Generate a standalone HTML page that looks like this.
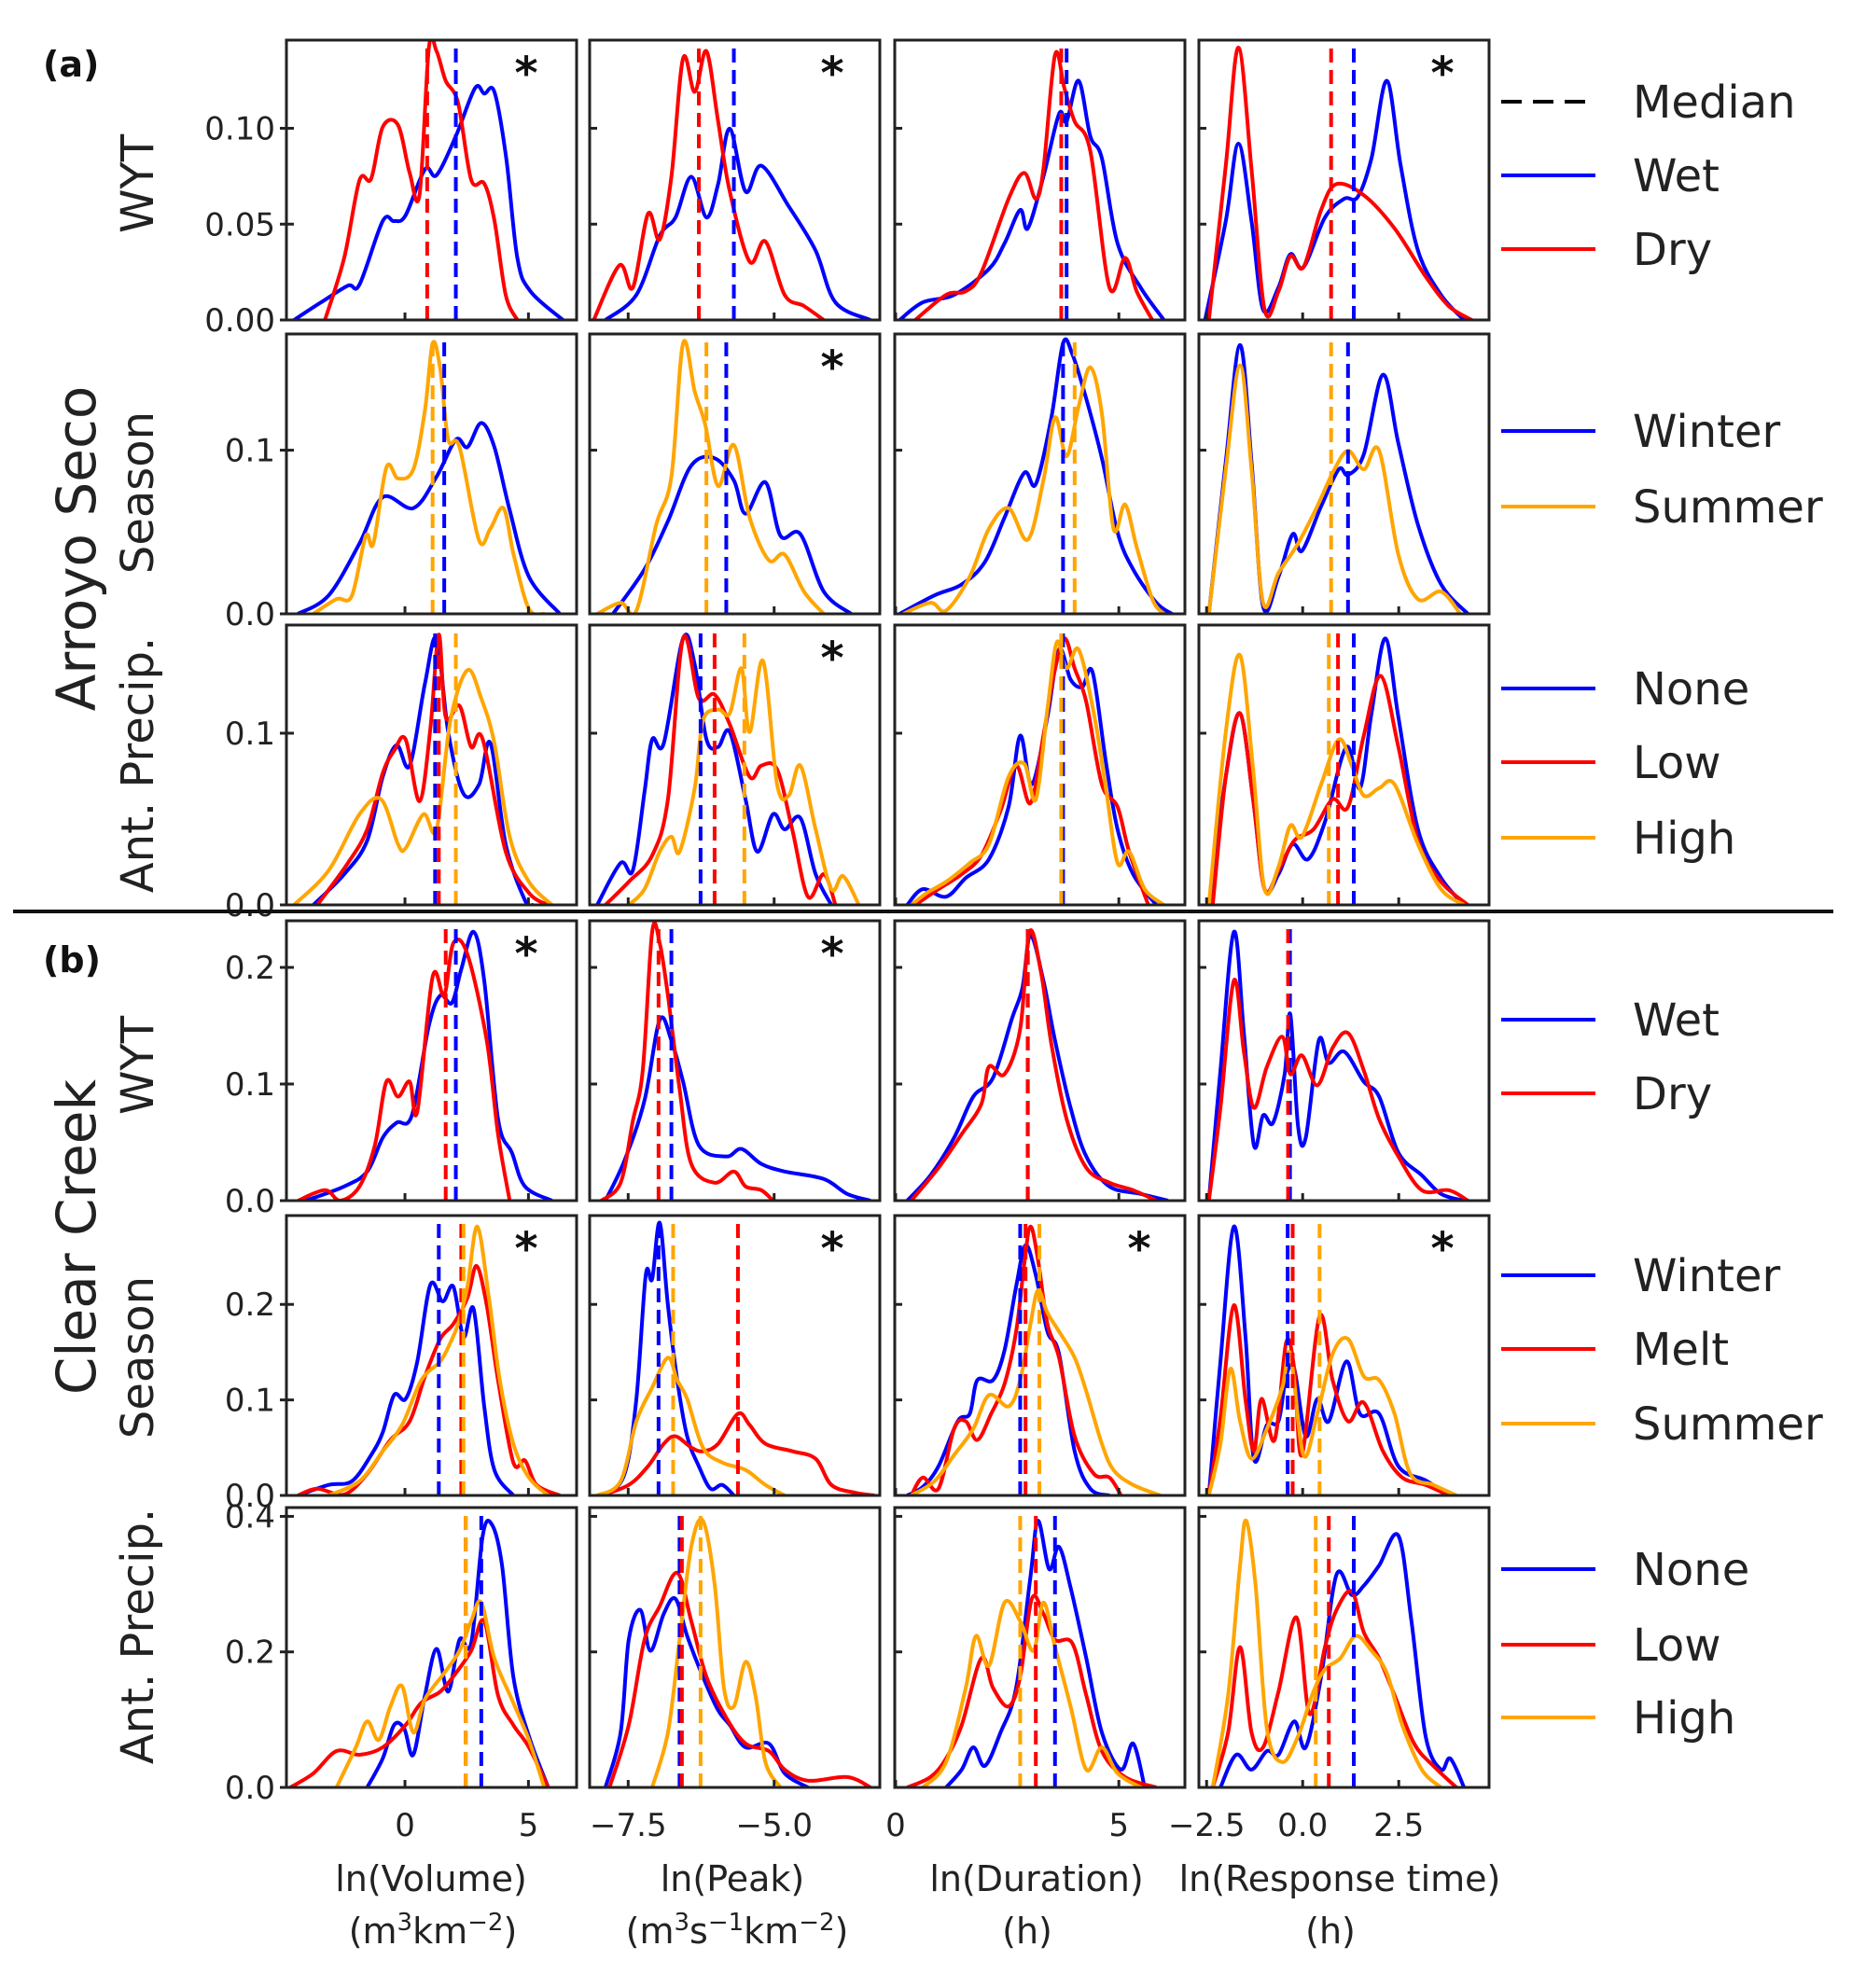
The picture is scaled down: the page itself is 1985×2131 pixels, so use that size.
<!DOCTYPE html>
<html><head><meta charset="utf-8"><title>KDE panels</title>
<style>
html,body{margin:0;padding:0;background:#fff;}
svg{display:block;font-family:"DejaVu Sans","Liberation Sans",sans-serif;}
</style></head>
<body>
<svg id="fig" width="1985" height="2131" viewBox="0 0 1985 2131" xmlns="http://www.w3.org/2000/svg">
<rect x="0" y="0" width="1985" height="2131" fill="#fff"/>
<g id="panels"></g>
<g id="labels">
<text x="46" y="82" font-size="38" font-weight="bold" fill="#111">(a)</text>
<text x="46" y="1042" font-size="38" font-weight="bold" fill="#111">(b)</text>
<text transform="translate(102,588) rotate(-90)" text-anchor="middle" font-size="58" fill="#222">Arroyo Seco</text>
<text transform="translate(102,1326) rotate(-90)" text-anchor="middle" font-size="58" fill="#222">Clear Creek</text>
<text transform="translate(164,197) rotate(-90)" text-anchor="middle" font-size="48" fill="#222">WYT</text>
<text transform="translate(164,528) rotate(-90)" text-anchor="middle" font-size="48" fill="#222">Season</text>
<text transform="translate(164,820) rotate(-90)" text-anchor="middle" font-size="48" fill="#222">Ant. Precip.</text>
<text transform="translate(164,1142) rotate(-90)" text-anchor="middle" font-size="48" fill="#222">WYT</text>
<text transform="translate(164,1455) rotate(-90)" text-anchor="middle" font-size="48" fill="#222">Season</text>
<text transform="translate(164,1754) rotate(-90)" text-anchor="middle" font-size="48" fill="#222">Ant. Precip.</text>
<line x1="14" y1="977" x2="1965" y2="977" stroke="#111" stroke-width="4"/>
<text x="462" y="2027" text-anchor="middle" font-size="38" fill="#222">ln(Volume)</text>
<text x="464" y="2083" text-anchor="middle" font-size="38" fill="#222">(m<tspan dy="-14" font-size="26">3</tspan><tspan dy="14">km</tspan><tspan dy="-14" font-size="26">−2</tspan><tspan dy="14">)</tspan></text>
<text x="785" y="2027" text-anchor="middle" font-size="38" fill="#222">ln(Peak)</text>
<text x="790" y="2083" text-anchor="middle" font-size="38" fill="#222">(m<tspan dy="-14" font-size="26">3</tspan><tspan dy="14">s</tspan><tspan dy="-14" font-size="26">−1</tspan><tspan dy="14">km</tspan><tspan dy="-14" font-size="26">−2</tspan><tspan dy="14">)</tspan></text>
<text x="1111" y="2027" text-anchor="middle" font-size="38" fill="#222">ln(Duration)</text>
<text x="1101" y="2083" text-anchor="middle" font-size="38" fill="#222">(h)</text>
<text x="1436" y="2027" text-anchor="middle" font-size="38" fill="#222">ln(Response time)</text>
<text x="1426" y="2083" text-anchor="middle" font-size="38" fill="#222">(h)</text>
</g>
<g id="legend"></g>
</svg>
<script>
// ---------- axis domains ----------
const colXmin = [-4.8, -8.16, -0.02, -2.7];
const colXmax = [6.95, -3.19, 6.48, 4.85];
const rowYmax = [0.146, 0.171, 0.163, 0.24, 0.293, 0.413];
const colXticks = [[0,5],[-7.5,-5.0],[0,5],[-2.5,0.0,2.5]];
const colXtickLabels = [["0","5"],["−7.5","−5.0"],["0","5"],["−2.5","0.0","2.5"]];
const rowYticks = [[0,0.05,0.10],[0,0.1],[0,0.1],[0,0.1,0.2],[0,0.1,0.2],[0,0.2,0.4]];
const rowYtickLabels = [["0.00","0.05","0.10"],["0.0","0.1"],["0.0","0.1"],["0.0","0.1","0.2"],["0.0","0.1","0.2"],["0.0","0.2","0.4"]];
const starPanels = [[0,0],[0,1],[0,3],[1,1],[2,1],[3,0],[3,1],[4,0],[4,1],[4,2],[4,3]];

// ---------- row 1 (Arroyo Seco, WYT) ----------
const r1c1_wet_x=[-4.49,-3.40,-2.31,-1.84,-0.90,-0.44,0.02,0.81,1.28,2.06,2.84,3.21,3.62,4.10,4.55,5.08,6.40];
const r1c1_wet_y=[0,.0092,.0179,.0185,.0516,.0516,.0545,.0786,.0756,.0959,.1210,.1181,.1190,.0844,.0324,.0150,0];
const r1c1_dry_x=[-3.24,-2.46,-1.84,-1.37,-0.90,-0.28,0.19,0.59,0.97,1.28,1.65,2.15,2.68,3.21,3.62,4.08,4.55];
const r1c1_dry_y=[0,.0324,.0729,.0737,.1007,.1017,.0767,.0655,.1421,.1402,.1248,.1132,.0732,.0712,.0520,.0131,0];
const r1c1_med=[2.06,0.90];
const r1c2_wet_x=[-7.89,-7.36,-6.96,-6.69,-6.42,-6.16,-5.96,-5.76,-5.49,-5.22,-4.75,-4.29,-3.95,-3.35];
const r1c2_wet_y=[0,.0131,.0439,.0535,.0747,.0535,.0709,.0998,.0670,.0805,.0593,.0362,.0092,0];
const r1c2_dry_x=[-8.09,-7.65,-7.42,-7.16,-6.96,-6.76,-6.56,-6.36,-6.16,-5.96,-5.76,-5.42,-5.15,-4.82,-4.49,-4.15];
const r1c2_dry_y=[0,.0285,.0169,.0555,.042,.0747,.1364,.119,.1402,.1036,.067,.0304,.041,.0131,.0073,0];
const r1c2_med=[-5.69,-6.29];
const r1c3_wet_x=[0.09,0.61,1.31,2.09,2.44,2.79,2.96,3.31,3.66,3.83,4.10,4.36,4.62,4.97,5.49,6.01];
const r1c3_wet_y=[0,.0092,.0131,.0266,.040,.0574,.0478,.0747,.1075,.1036,.1248,.0959,.0844,.040,.0169,0];
const r1c3_dry_x=[0.44,1.13,1.57,1.92,2.53,2.88,3.14,3.31,3.57,3.78,4.01,4.36,4.79,5.14,5.40,5.75];
const r1c3_dry_y=[0,.0131,.015,.0247,.0632,.0767,.0632,.0786,.1383,.121,.1036,.0882,.0169,.0324,.015,0];
const r1c3_med=[3.83,3.71];
const r1c4_wet_x=[-2.54,-2.0,-1.67,-1.33,-1.03,-0.63,-0.32,0.02,0.58,1.08,1.43,1.79,2.19,2.55,3.0,3.6,4.2];
const r1c4_wet_y=[0,.0516,.092,.0516,.0054,.017,.0343,.0275,.0535,.0632,.0641,.0844,.1248,.0805,.0362,.0131,0];
const r1c4_dry_x=[-2.44,-2.0,-1.67,-1.33,-0.99,-0.63,-0.32,0.02,0.48,0.88,1.59,2.39,3.2,3.8,4.4];
const r1c4_dry_y=[0,.0805,.1421,.0786,.0054,.015,.0333,.0275,.0574,.0709,.0651,.0478,.0227,.0073,0];
const r1c4_med=[1.33,0.74];

// ---------- row 2 (Arroyo Seco, Season) ----------
const r2c1_winter_x=[-4.33,-3.09,-1.84,-0.90,0.34,1.28,2.06,2.53,3.09,3.62,4.24,5.02,6.27];
const r2c1_winter_y=[0,.0113,.043,.0713,.0646,.0838,.1065,.1019,.1166,.1019,.0634,.0227,0];
const r2c1_summer_x=[-3.71,-2.77,-2.15,-1.59,-1.28,-0.75,-0.28,0.34,0.81,1.12,1.43,1.75,2.21,2.99,3.46,3.99,4.40,5.02,5.64];
const r2c1_summer_y=[0,.009,.011,.0476,.043,.0895,.0827,.0883,.1246,.1653,.1495,.1065,.1019,.0453,.0521,.0646,.0362,.003,0];
const r2c1_med=[1.59,1.12];
const r2c2_winter_x=[-7.76,-7.22,-6.82,-6.42,-6.02,-5.69,-5.49,-5.15,-4.89,-4.55,-4.15,-3.68];
const r2c2_winter_y=[0,.0272,.0566,.0906,.0951,.0815,.0612,.0804,.0476,.0487,.0136,0];
const r2c2_summer_x=[-8.03,-7.63,-7.36,-7.02,-6.76,-6.56,-6.36,-6.18,-5.96,-5.69,-5.42,-5.09,-4.82,-4.49,-4.15];
const r2c2_summer_y=[0,.0068,.002,.0544,.0838,.1653,.1359,.1155,.0781,.1031,.0589,.0328,.0362,.0136,0];
const r2c2_med=[-5.82,-6.16];
const r2c3_winter_x=[0.09,0.87,1.48,2.0,2.44,2.88,3.14,3.49,3.75,3.96,4.27,4.62,4.97,5.32,5.84,6.19];
const r2c3_winter_y=[0,.0113,.018,.0317,.0589,.0861,.0793,.12,.1653,.1586,.1314,.0951,.0498,.0272,.0068,0];
const r2c3_summer_x=[0.17,0.78,1.13,1.66,2.09,2.53,2.96,3.31,3.57,3.83,4.10,4.36,4.62,4.88,5.14,5.40,5.75,6.01];
const r2c3_summer_y=[0,.0068,.002,.0227,.0521,.0646,.0453,.0815,.12,.0963,.1268,.1506,.1223,.0521,.0668,.0408,.009,0];
const r2c3_med=[3.75,4.01];
const r2c4_winter_x=[-2.44,-2.0,-1.63,-1.33,-1.03,-0.63,-0.26,-0.02,0.48,0.94,1.18,1.59,2.09,2.49,3.0,3.6,4.3];
const r2c4_winter_y=[0,.0929,.1642,.0929,.0045,.0227,.0487,.0385,.0657,.0883,.0849,.0974,.1461,.1042,.0544,.0181,0];
const r2c4_summer_x=[-2.44,-2.0,-1.63,-1.33,-1.03,-0.63,-0.12,0.38,0.78,1.18,1.59,1.99,2.49,3.0,3.6,4.1];
const r2c4_summer_y=[0,.0883,.1518,.0883,.0068,.0249,.043,.0657,.0861,.0997,.0883,.0997,.0362,.009,.0136,0];
const r2c4_med=[1.18,0.74];

// ---------- row 3 (Arroyo Seco, Antecedent precipitation) ----------
const r3c1_none_x=[-3.71,-2.46,-1.53,-0.90,-0.34,0.19,0.81,1.28,1.75,2.37,3.0,3.46,4.08,4.86,5.17];
const r3c1_none_y=[0,.0179,.0375,.0746,.0931,.0811,.129,.1552,.1007,.0647,.0702,.0942,.0353,.0026,0];
const r3c1_low_x=[-3.55,-2.31,-1.53,-0.90,-0.44,0.03,0.59,1.03,1.37,1.65,2.21,2.68,3.15,4.08,5.02,5.8];
const r3c1_low_y=[0,.0244,.044,.0767,.0898,.0964,.0604,.1029,.1574,.1094,.116,.092,.0964,.031,.007,0];
const r3c1_high_x=[-4.49,-3.09,-1.84,-0.97,-0.28,0.03,0.75,1.28,1.84,2.53,3.09,3.62,4.24,5.02,5.95];
const r3c1_high_y=[0,.0201,.0528,.0615,.0353,.0331,.0528,.044,.1073,.1367,.1203,.0942,.0397,.0135,0];
const r3c1_med=[1.22,1.37,2.06];
const r3c2_none_x=[-8.03,-7.63,-7.42,-7.22,-7.09,-6.89,-6.56,-6.36,-6.16,-5.96,-5.76,-5.49,-5.29,-5.02,-4.82,-4.55,-4.29,-4.02];
const r3c2_none_y=[0,.0244,.0201,.0658,.0964,.0942,.1552,.14,.0964,.092,.1007,.0615,.031,.0528,.044,.0506,.0179,0];
const r3c2_low_x=[-7.89,-7.49,-7.09,-6.82,-6.56,-6.29,-6.02,-5.76,-5.42,-5.22,-4.95,-4.69,-4.42,-4.15,-3.95];
const r3c2_low_y=[0,.0135,.0288,.0615,.1552,.1203,.1225,.1051,.0746,.0811,.0789,.044,.0048,.0179,0];
const r3c2_high_x=[-7.49,-7.22,-6.96,-6.76,-6.62,-6.36,-6.22,-5.96,-5.76,-5.56,-5.42,-5.19,-4.95,-4.75,-4.55,-4.29,-4.02,-3.82,-3.55];
const r3c2_high_y=[0,.0092,.031,.0397,.031,.068,.1073,.1138,.1116,.1378,.1007,.1421,.0702,.0637,.0811,.044,.0092,.0168,0];
const r3c2_med=[-6.26,-6.02,-5.51];
const r3c3_none_x=[0.26,0.61,1.13,1.57,2.09,2.53,2.79,3.05,3.40,3.66,3.92,4.18,4.41,4.71,4.97,5.32,5.84];
const r3c3_none_y=[0,.0092,.0048,.0157,.0266,.0571,.0985,.0702,.1094,.1487,.1312,.1269,.1356,.0833,.044,.0179,0];
const r3c3_low_x=[0.44,0.96,1.48,1.92,2.35,2.70,3.02,3.31,3.54,3.78,4.01,4.27,4.62,4.97,5.23,5.66];
const r3c3_low_y=[0,.0092,.0179,.0288,.0549,.0811,.0593,.0985,.1334,.1552,.1378,.1182,.0702,.0571,.031,0];
const r3c3_high_x=[0.35,0.70,1.13,1.66,2.09,2.53,2.88,3.14,3.40,3.61,3.83,4.10,4.44,4.71,4.97,5.23,5.58,6.01];
const r3c3_high_y=[0,.007,.0135,.0244,.0353,.0746,.0822,.0615,.1138,.153,.1378,.1487,.1116,.068,.0244,.031,.0092,0];
const r3c3_med=[3.75,3.71,3.71];
const r3c4_none_x=[-2.44,-2.0,-1.63,-1.29,-0.99,-0.63,-0.26,0.14,0.58,1.14,1.49,1.79,2.15,2.49,3.0,3.6,4.2];
const r3c4_none_y=[0,.0746,.1116,.0615,.0092,.0179,.0353,.0266,.0484,.092,.068,.1116,.1552,.1094,.044,.0157,0];
const r3c4_low_x=[-2.34,-2.0,-1.63,-1.29,-0.99,-0.63,-0.22,0.28,0.78,1.18,1.59,2.03,2.49,3.0,3.6,4.3];
const r3c4_low_y=[0,.0746,.1116,.0615,.0092,.0201,.0375,.044,.0615,.0571,.0985,.1334,.092,.0375,.0135,0];
const r3c4_high_x=[-2.44,-2.0,-1.63,-1.29,-0.99,-0.63,-0.32,-0.02,0.48,0.94,1.28,1.59,1.99,2.39,3.0,3.6,4.2];
const r3c4_high_y=[0,.1007,.1454,.0789,.0092,.0222,.0462,.0397,.0702,.0964,.0811,.0637,.068,.0702,.0353,.0092,0];
const r3c4_med=[1.33,0.92,0.68];

// ---------- row 4 (Clear Creek, WYT) ----------
const r4c1_wet_x=[-4.02,-2.46,-1.53,-0.90,-0.34,0.28,0.97,1.43,1.90,2.28,2.78,3.21,3.77,4.33,4.86,5.95];
const r4c1_wet_y=[0,.0122,.025,.0539,.0668,.0732,.1502,.1759,.1695,.1984,.2305,.1887,.07,.0411,.0122,0];
const r4c1_dry_x=[-4.33,-3.24,-2.62,-1.84,-1.22,-0.75,-0.28,0.19,0.50,1.12,1.59,1.96,2.53,3.31,3.77,4.24];
const r4c1_dry_y=[0,.009,0,.0122,.0475,.1021,.0892,.1021,.0764,.192,.1759,.2208,.2112,.1374,.0571,0];
const r4c1_med=[2.06,1.65];
const r4c2_wet_x=[-7.89,-7.56,-7.22,-6.96,-6.76,-6.56,-6.29,-5.82,-5.56,-5.22,-4.82,-4.15,-3.75,-3.35];
const r4c2_wet_y=[0,.0347,.086,.155,.1374,.1021,.0475,.0379,.0443,.0315,.025,.0186,.0058,0];
const r4c2_dry_x=[-7.96,-7.63,-7.42,-7.25,-7.09,-6.96,-6.82,-6.62,-6.42,-6.02,-5.69,-5.49,-5.22,-5.02];
const r4c2_dry_y=[0,.0154,.0684,.1117,.2305,.2208,.1759,.0957,.0315,.0154,.025,.0122,.009,0];
const r4c2_med=[-6.76,-6.98];
const r4c3_wet_x=[0.26,0.78,1.31,1.74,2.18,2.61,2.84,3.02,3.31,3.57,3.92,4.27,4.79,5.49,6.1];
const r4c3_wet_y=[0,.0218,.0539,.0892,.1053,.1566,.1823,.2273,.1887,.1374,.0796,.0379,.0122,.0058,0];
const r4c3_dry_x=[0.35,0.96,1.48,1.92,2.09,2.44,2.79,3.0,3.26,3.49,3.83,4.27,4.79,5.32,5.84];
const r4c3_dry_y=[0,.0282,.0571,.0828,.1149,.1085,.147,.2305,.1952,.1342,.07,.0282,.0154,.009,0];
const r4c3_med=[2.96,2.96];
const r4c4_wet_x=[-2.44,-2.14,-1.79,-1.53,-1.27,-1.03,-0.77,-0.47,-0.32,-0.12,0.08,0.42,0.68,1.08,1.59,1.99,2.49,3.10,3.60,4.2];
const r4c4_wet_y=[0,.1117,.2305,.1438,.0475,.0732,.0668,.1085,.1598,.0636,.0539,.1374,.1181,.1278,.1021,.0892,.0411,.0218,.0058,0];
const r4c4_dry_x=[-2.44,-2.14,-1.79,-1.53,-1.27,-0.93,-0.53,-0.32,-0.02,0.38,0.78,1.18,1.59,1.99,2.49,3.10,3.80,4.3];
const r4c4_dry_y=[0,.0796,.1887,.1278,.0796,.1149,.1406,.1085,.1246,.0989,.131,.1438,.1117,.07,.0379,.009,.009,0];
const r4c4_med=[-0.33,-0.38];

// ---------- row 5 (Clear Creek, Season) ----------
const r5c1_winter_x=[-4.33,-3.09,-2.15,-1.37,-0.90,-0.44,0.03,0.50,1.03,1.53,1.96,2.37,2.78,3.21,3.62,4.39];
const r5c1_winter_y=[0,.011,.0149,.0423,.0659,.1051,.1011,.1403,.2207,.2031,.2187,.1658,.1952,.0933,.0267,0];
const r5c1_melt_x=[-4.33,-3.55,-2.46,-1.53,-0.59,0.19,0.81,1.43,1.96,2.53,2.90,3.31,3.77,4.39,4.86,5.33,6.27];
const r5c1_melt_y=[0,.0071,.001,.0227,.058,.0776,.1247,.1639,.1795,.207,.2403,.1991,.1207,.0345,.0365,.011,0];
const r5c1_summer_x=[-3.09,-1.84,-0.90,-0.12,0.66,1.43,1.84,2.15,2.53,2.93,3.40,3.84,4.39,5.02,5.8];
const r5c1_summer_y=[0,.0149,.0463,.0737,.1207,.1403,.16,.1795,.2187,.2815,.207,.1207,.0541,.0188,0];
const r5c1_med=[1.37,2.28,2.37];
const r5c2_winter_x=[-7.89,-7.56,-7.36,-7.2,-7.09,-6.96,-6.82,-6.66,-6.49,-6.29,-6.09,-5.89,-5.69];
const r5c2_winter_y=[0,.0227,.1011,.2305,.2266,.2854,.1991,.1207,.0619,.0306,.0071,.011,0];
const r5c2_melt_x=[-7.96,-7.49,-7.16,-6.89,-6.69,-6.42,-6.22,-5.96,-5.62,-5.42,-5.15,-4.69,-4.29,-4.02,-3.62,-3.28];
const r5c2_melt_y=[0,.011,.0306,.0541,.0619,.0502,.0463,.0541,.0855,.0737,.0541,.0463,.0384,.011,.003,0];
const r5c2_summer_x=[-8.03,-7.63,-7.36,-7.09,-6.82,-6.66,-6.49,-6.22,-5.89,-5.49,-5.15,-4.82];
const r5c2_summer_y=[0,.0149,.0776,.1129,.1443,.1207,.1011,.0502,.0345,.0267,.011,0];
const r5c2_med=[-6.98,-5.62,-6.73];
const r5c3_winter_x=[0.26,0.61,0.96,1.39,1.66,1.83,2.18,2.44,2.70,2.91,3.14,3.40,3.66,4.01,4.36,4.79];
const r5c3_winter_y=[0,.009,.0306,.0776,.0855,.1207,.1207,.1521,.2187,.2619,.2305,.1717,.1482,.0463,.0071,0];
const r5c3_melt_x=[0.35,0.61,0.96,1.31,1.57,1.83,2.14,2.44,2.70,2.88,3.02,3.19,3.40,3.66,4.01,4.44,4.79,5.05];
const r5c3_melt_y=[0,.0188,.0071,.0698,.0776,.058,.0855,.1168,.1717,.2423,.2815,.2462,.1795,.1443,.0619,.0227,.0188,0];
const r5c3_summer_x=[0.35,0.87,1.31,1.74,2.09,2.53,2.79,3.02,3.19,3.40,3.66,4.01,4.27,4.62,4.88,5.32,5.93];
const r5c3_summer_y=[0,.0149,.0423,.0698,.1051,.0933,.1207,.1795,.2148,.1913,.1717,.1443,.109,.0541,.0267,.011,0];
const r5c3_med=[2.79,2.91,3.22];
const r5c4_winter_x=[-2.44,-2.14,-1.79,-1.49,-1.27,-0.93,-0.63,-0.43,-0.22,0.08,0.38,0.68,1.14,1.49,1.99,2.49,3.20,3.80];
const r5c4_winter_y=[0,.1403,.2815,.1678,.0384,.0737,.0776,.1247,.1325,.0619,.1011,.0776,.1403,.0855,.0855,.0306,.0157,0];
const r5c4_melt_x=[-2.44,-2.14,-1.79,-1.49,-1.27,-1.07,-0.73,-0.43,-0.22,-0.02,0.44,0.78,1.18,1.59,2.09,2.59,3.20,3.8];
const r5c4_melt_y=[0,.0815,.1991,.1011,.0463,.1011,.058,.16,.1325,.0423,.1874,.1207,.0776,.0972,.0463,.0188,.011,0];
const r5c4_summer_x=[-2.44,-2.14,-1.88,-1.63,-1.33,-0.93,-0.53,-0.32,0.02,0.38,0.78,1.18,1.59,1.99,2.39,2.80,3.40,4.0];
const r5c4_summer_y=[0,.0541,.1325,.0776,.0384,.0698,.1129,.1482,.0423,.0855,.1482,.1639,.1247,.1207,.0855,.0227,.011,0];
const r5c4_med=[-0.39,-0.26,0.44];

// ---------- row 6 (Clear Creek, Antecedent precipitation) ----------
const r6c1_none_x=[-1.53,-0.90,-0.44,-0.03,0.34,0.81,1.28,1.75,2.21,2.68,3.15,3.52,3.93,4.39,5.02,5.8];
const r6c1_none_y=[0,.0427,.0921,.0866,.0482,.1359,.2044,.1414,.2181,.2126,.3715,.388,.3277,.1633,.0756,0];
const r6c1_low_x=[-4.64,-3.71,-2.77,-1.84,-0.90,0.03,0.66,1.43,2.06,2.68,3.21,3.77,4.39,5.02,5.8];
const r6c1_low_y=[0,.0208,.0537,.0482,.0592,.0921,.1249,.1414,.1688,.2017,.2455,.1359,.0921,.0592,0];
const r6c1_high_x=[-2.77,-1.99,-1.53,-1.06,-0.59,-0.12,0.34,0.81,1.59,2.21,2.68,3.09,3.62,4.39,5.02,5.64];
const r6c1_high_y=[0,.0592,.0975,.0701,.1195,.1496,.0811,.1304,.1688,.2017,.2455,.2729,.1907,.1249,.0701,0];
const r6c1_med=[3.09,2.46,2.46];
const r6c2_none_x=[-7.89,-7.63,-7.49,-7.29,-7.12,-6.89,-6.69,-6.49,-6.22,-5.96,-5.76,-5.49,-5.09,-4.82,-4.42];
const r6c2_none_y=[0,.0811,.2181,.2619,.2017,.2565,.2784,.2236,.1633,.114,.0921,.0592,.0647,.0208,0];
const r6c2_low_x=[-7.82,-7.49,-7.22,-6.96,-6.66,-6.42,-6.16,-5.82,-5.49,-5.09,-4.82,-4.42,-3.75,-3.35];
const r6c2_low_y=[0,.0921,.2181,.2674,.3167,.2455,.1633,.103,.0647,.0537,.0263,.0099,.0153,0];
const r6c2_high_x=[-7.09,-6.82,-6.62,-6.42,-6.22,-6.02,-5.86,-5.69,-5.49,-5.32,-5.15,-4.89];
const r6c2_high_y=[0,.0811,.2181,.3551,.3935,.3003,.1469,.1195,.1852,.1359,.0373,0];
const r6c2_med=[-6.62,-6.58,-6.26];
const r6c3_none_x=[1.13,1.48,1.74,2.0,2.35,2.70,3.02,3.19,3.44,3.66,3.92,4.27,4.62,5.05,5.32,5.58];
const r6c3_none_y=[0,.0263,.0592,.0318,.0811,.1469,.3113,.3935,.3222,.3551,.2948,.1907,.0811,.0263,.0647,0];
const r6c3_low_x=[0.26,0.78,1.13,1.48,1.92,2.18,2.53,2.79,3.05,3.31,3.57,3.96,4.27,4.62,5.14,5.84];
const r6c3_low_y=[0,.0153,.0427,.0921,.1907,.1469,.1195,.1633,.2784,.2565,.2181,.2126,.1359,.0537,.0153,0];
const r6c3_high_x=[0.61,1.13,1.57,1.80,2.09,2.44,2.79,3.09,3.31,3.57,3.92,4.27,4.62,4.97,5.49];
const r6c3_high_y=[0,.0373,.1469,.2236,.1797,.2729,.2455,.2017,.2729,.2072,.1195,.0263,.0592,.0208,0];
const r6c3_med=[3.57,3.14,2.79];
const r6c4_none_x=[-2.14,-1.73,-1.33,-0.93,-0.63,-0.22,0.08,0.48,0.88,1.28,1.59,1.99,2.49,2.83,3.20,3.6,3.84,4.2];
const r6c4_none_y=[0,.0482,.0263,.0537,.0482,.0975,.0592,.1633,.314,.2839,.2976,.3277,.3715,.2455,.0756,.0263,.0427,0];
const r6c4_low_x=[-2.34,-1.94,-1.63,-1.33,-1.03,-0.63,-0.16,0.18,0.58,0.88,1.28,1.59,1.99,2.39,2.90,3.40,4.0];
const r6c4_low_y=[0,.0811,.2072,.0811,.0592,.1414,.251,.1085,.2072,.2619,.2893,.2291,.1907,.1359,.0647,.0318,0];
const r6c4_high_x=[-2.34,-1.94,-1.63,-1.47,-1.23,-0.93,-0.53,-0.12,0.28,0.58,0.98,1.38,1.79,2.19,2.59,3.10,3.6];
const r6c4_high_y=[0,.1359,.3277,.3935,.3003,.0866,.0373,.0756,.1414,.1743,.1907,.2236,.2017,.1688,.0921,.0263,0];
const r6c4_med=[1.33,0.68,0.34];

// ---------- series wiring ----------
const BLUE="#0000ff", RED="#ff0000", ORANGE="#ffa500";
const rowColors=[[BLUE,RED],[BLUE,ORANGE],[BLUE,RED,ORANGE],[BLUE,RED],[BLUE,RED,ORANGE],[BLUE,RED,ORANGE]];
const rowNames=[["wet","dry"],["winter","summer"],["none","low","high"],["wet","dry"],["winter","melt","summer"],["none","low","high"]];
const panelSeries=[
 [[[r1c1_wet_x,r1c1_wet_y],[r1c1_dry_x,r1c1_dry_y]],[[r1c2_wet_x,r1c2_wet_y],[r1c2_dry_x,r1c2_dry_y]],[[r1c3_wet_x,r1c3_wet_y],[r1c3_dry_x,r1c3_dry_y]],[[r1c4_wet_x,r1c4_wet_y],[r1c4_dry_x,r1c4_dry_y]]],
 [[[r2c1_winter_x,r2c1_winter_y],[r2c1_summer_x,r2c1_summer_y]],[[r2c2_winter_x,r2c2_winter_y],[r2c2_summer_x,r2c2_summer_y]],[[r2c3_winter_x,r2c3_winter_y],[r2c3_summer_x,r2c3_summer_y]],[[r2c4_winter_x,r2c4_winter_y],[r2c4_summer_x,r2c4_summer_y]]],
 [[[r3c1_none_x,r3c1_none_y],[r3c1_low_x,r3c1_low_y],[r3c1_high_x,r3c1_high_y]],[[r3c2_none_x,r3c2_none_y],[r3c2_low_x,r3c2_low_y],[r3c2_high_x,r3c2_high_y]],[[r3c3_none_x,r3c3_none_y],[r3c3_low_x,r3c3_low_y],[r3c3_high_x,r3c3_high_y]],[[r3c4_none_x,r3c4_none_y],[r3c4_low_x,r3c4_low_y],[r3c4_high_x,r3c4_high_y]]],
 [[[r4c1_wet_x,r4c1_wet_y],[r4c1_dry_x,r4c1_dry_y]],[[r4c2_wet_x,r4c2_wet_y],[r4c2_dry_x,r4c2_dry_y]],[[r4c3_wet_x,r4c3_wet_y],[r4c3_dry_x,r4c3_dry_y]],[[r4c4_wet_x,r4c4_wet_y],[r4c4_dry_x,r4c4_dry_y]]],
 [[[r5c1_winter_x,r5c1_winter_y],[r5c1_melt_x,r5c1_melt_y],[r5c1_summer_x,r5c1_summer_y]],[[r5c2_winter_x,r5c2_winter_y],[r5c2_melt_x,r5c2_melt_y],[r5c2_summer_x,r5c2_summer_y]],[[r5c3_winter_x,r5c3_winter_y],[r5c3_melt_x,r5c3_melt_y],[r5c3_summer_x,r5c3_summer_y]],[[r5c4_winter_x,r5c4_winter_y],[r5c4_melt_x,r5c4_melt_y],[r5c4_summer_x,r5c4_summer_y]]],
 [[[r6c1_none_x,r6c1_none_y],[r6c1_low_x,r6c1_low_y],[r6c1_high_x,r6c1_high_y]],[[r6c2_none_x,r6c2_none_y],[r6c2_low_x,r6c2_low_y],[r6c2_high_x,r6c2_high_y]],[[r6c3_none_x,r6c3_none_y],[r6c3_low_x,r6c3_low_y],[r6c3_high_x,r6c3_high_y]],[[r6c4_none_x,r6c4_none_y],[r6c4_low_x,r6c4_low_y],[r6c4_high_x,r6c4_high_y]]]
];
const panelMedians=[[r1c1_med,r1c2_med,r1c3_med,r1c4_med],[r2c1_med,r2c2_med,r2c3_med,r2c4_med],[r3c1_med,r3c2_med,r3c3_med,r3c4_med],[r4c1_med,r4c2_med,r4c3_med,r4c4_med],[r5c1_med,r5c2_med,r5c3_med,r5c4_med],[r6c1_med,r6c2_med,r6c3_med,r6c4_med]];

// ---------- layout ----------
const colLeft=[307,632,959,1285], PW=311;
const rowTop=[43,358,670,987,1303,1616], PH=300;
const NS="http://www.w3.org/2000/svg";
function mk(tag,attrs,parent){const e=document.createElementNS(NS,tag);for(const k in attrs)e.setAttribute(k,attrs[k]);parent.appendChild(e);return e;}
function xScale(c,v){return colLeft[c]+(v-colXmin[c])/(colXmax[c]-colXmin[c])*PW;}
function yScale(r,v){return rowTop[r]+PH-(v/rowYmax[r])*PH;}
function smoothPath(pts){
  let d="M"+pts[0][0].toFixed(1)+","+pts[0][1].toFixed(1);
  for(let i=0;i<pts.length-1;i++){
    const p0=pts[i-1]||pts[i],p1=pts[i],p2=pts[i+1],p3=pts[i+2]||p2;
    const c1x=p1[0]+(p2[0]-p0[0])/6,c1y=p1[1]+(p2[1]-p0[1])/6;
    const c2x=p2[0]-(p3[0]-p1[0])/6,c2y=p2[1]-(p3[1]-p1[1])/6;
    d+=" C"+c1x.toFixed(1)+","+c1y.toFixed(1)+" "+c2x.toFixed(1)+","+c2y.toFixed(1)+" "+p2[0].toFixed(1)+","+p2[1].toFixed(1);
  }
  return d;
}
const G=document.getElementById("panels");
for(let r=0;r<6;r++){
  for(let c=0;c<4;c++){
    const g=mk("g",{},G);
    
    
    const cp=mk("clipPath",{id:"cp"+r+c},g);
    mk("rect",{x:colLeft[c],y:rowTop[r],width:PW,height:PH},cp);
    const inner=mk("g",{"clip-path":"url(#cp"+r+c+")"},g);
    const ser=panelSeries[r][c];
    for(let s=0;s<ser.length;s++){
      const xs=ser[s][0],ys=ser[s][1];
      const pts=xs.map((xv,i)=>[xScale(c,xv),yScale(r,ys[i])]);
      const p=mk("path",{d:smoothPath(pts),fill:"none",stroke:rowColors[r][s],"stroke-width":4,"stroke-linejoin":"round"},inner);
      
      
    }
    const meds=panelMedians[r][c];
    for(let s=0;s<meds.length;s++){
      const mx=xScale(c,meds[s]);
      const l=mk("line",{x1:mx,y1:rowTop[r]+PH,x2:mx,y2:rowTop[r],stroke:rowColors[r][s],"stroke-width":4,"stroke-dasharray":"15 8"},inner);
      
      
    }
    const fr=mk("rect",{x:colLeft[c],y:rowTop[r],width:PW,height:PH,fill:"none",stroke:"#222","stroke-width":3},g);
    
    
    colXticks[c].forEach((tv,i)=>{
      const tx=xScale(c,tv);
      mk("line",{x1:tx,y1:rowTop[r]+PH,x2:tx,y2:rowTop[r]+PH-8,stroke:"#222","stroke-width":3},g);
      if(r===5){
        const t=mk("text",{x:tx,y:1968,"text-anchor":"middle","font-size":34,fill:"#222"},g);
        t.textContent=colXtickLabels[c][i];
        
        
      }
    });
    rowYticks[r].forEach((tv,i)=>{
      const ty=yScale(r,tv);
      if(tv>0) mk("line",{x1:colLeft[c],y1:ty,x2:colLeft[c]+8,y2:ty,stroke:"#222","stroke-width":3},g);
      if(c===0){
        mk("line",{x1:colLeft[c]-7,y1:ty,x2:colLeft[c],y2:ty,stroke:"#222","stroke-width":3},g);
        const t=mk("text",{x:colLeft[c]-12,y:ty+12,"text-anchor":"end","font-size":34,fill:"#222"},g);
        t.textContent=rowYtickLabels[r][i];
        
        
      }
    });
  }
}
const starX=[564,892,1221,1546];
starPanels.forEach(([r,c])=>{
  const t=mk("text",{x:starX[c],y:rowTop[r]+52,"text-anchor":"middle","font-size":48,"font-weight":"bold",fill:"#111"},G);
  t.textContent="*";
  
  
});
const legendLabels=[["Median","Wet","Dry"],["Winter","Summer"],["None","Low","High"],["Wet","Dry"],["Winter","Melt","Summer"],["None","Low","High"]];
const legendYs=[[109,188,267],[462,543],[738,817,898],[1093,1172],[1367,1446,1526],[1682,1763,1841]];
const legendCols=[["#000",BLUE,RED],[BLUE,ORANGE],[BLUE,RED,ORANGE],[BLUE,RED],[BLUE,RED,ORANGE],[BLUE,RED,ORANGE]];
const L=document.getElementById("legend");
legendLabels.forEach((labs,r)=>{
  labs.forEach((lab,i)=>{
    const y=legendYs[r][i];
    const ln=mk("line",{x1:1609,y1:y,x2:1710,y2:y,stroke:legendCols[r][i],"stroke-width":4},L);
    if(lab==="Median") ln.setAttribute("stroke-dasharray","22 12");
    
    
    const t=mk("text",{x:1750,y:y+17,"font-size":48,fill:"#222"},L);
    t.textContent=lab;
    
    
  });
});
</script>
</body></html>
